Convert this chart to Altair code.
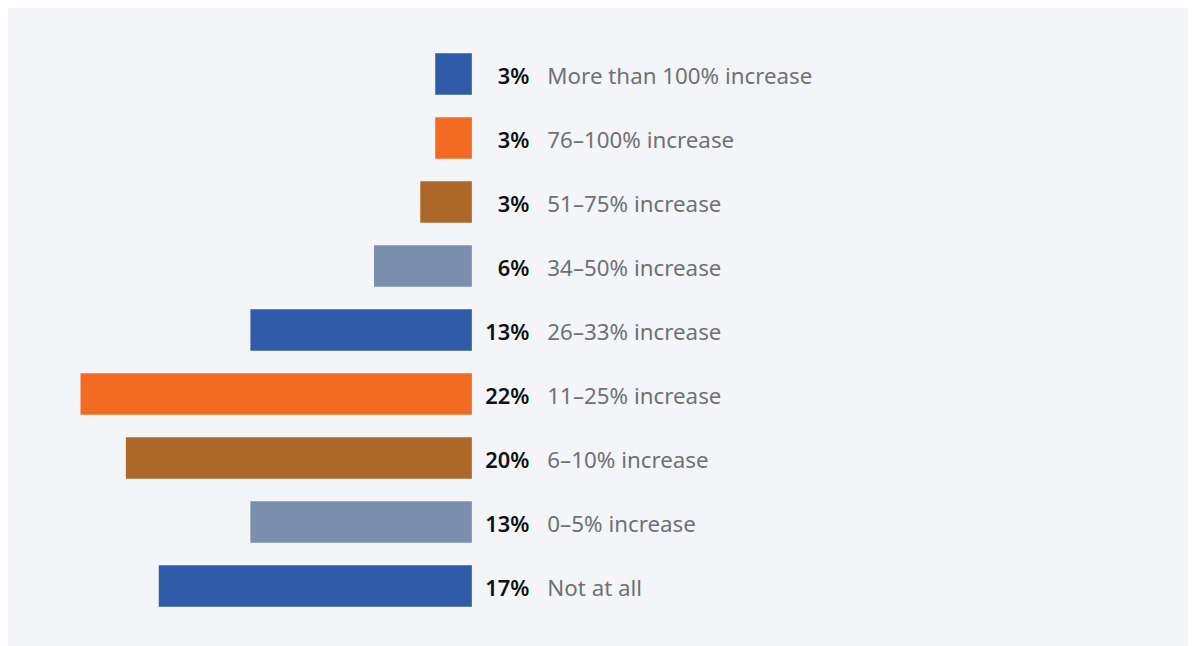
import altair as alt
import pandas as pd

categories = [
    "More than 100% increase",
    "76–100% increase",
    "51–75% increase",
    "34–50% increase",
    "26–33% increase",
    "11–25% increase",
    "6–10% increase",
    "0–5% increase",
    "Not at all",
]
pct_labels = [3, 3, 3, 6, 13, 22, 20, 13, 17]
bar_values = [2.06, 2.06, 2.9, 5.5, 12.45, 22.0, 19.45, 12.45, 17.6]
colors = ["#2f5ba9", "#f36a23", "#ad6728", "#7a8fae", "#2f5ba9",
          "#f36a23", "#ad6728", "#7a8fae", "#2f5ba9"]

df = pd.DataFrame({
    "cat": categories,
    "val": bar_values,
    "pct": [f"{p}%" for p in pct_labels],
    "color": colors,
    "zero": [0] * len(categories),
})

FONT = "Noto Sans"
xscale = alt.Scale(domain=[0, 22], range=[467, 73])

y = alt.Y("cat:N", sort=categories, axis=None,
          scale=alt.Scale(paddingInner=0.35, paddingOuter=0.175))

base = alt.Chart(df)

bars = base.mark_bar().encode(
    x=alt.X("val:Q", scale=xscale, axis=None),
    x2=alt.X2("zero:Q"),
    y=y,
    color=alt.Color("color:N", scale=None),
)

pct = base.mark_text(align="right", baseline="middle", dx=58, dy=3,
                     font=FONT, fontSize=22, fontWeight=600,
                     color="#111111").encode(
    x=alt.X("zero:Q", scale=xscale, axis=None),
    y=y,
    text="pct:N",
)

lab = base.mark_text(align="left", baseline="middle", dx=76, dy=3,
                     font=FONT, fontSize=22.5, color="#707174").encode(
    x=alt.X("zero:Q", scale=xscale, axis=None),
    y=y,
    text="cat:N",
)

chart = alt.layer(bars, pct, lab).properties(
    width=1188,
    height=580,
    padding={"left": 0, "top": 32, "right": 0, "bottom": 26},
    autosize=alt.AutoSizeParams(type="none"),
    background="#f4f5f8",
).configure_view(stroke=None)

chart.save("out.html", embed_options={"renderer": "svg", "actions": False})
